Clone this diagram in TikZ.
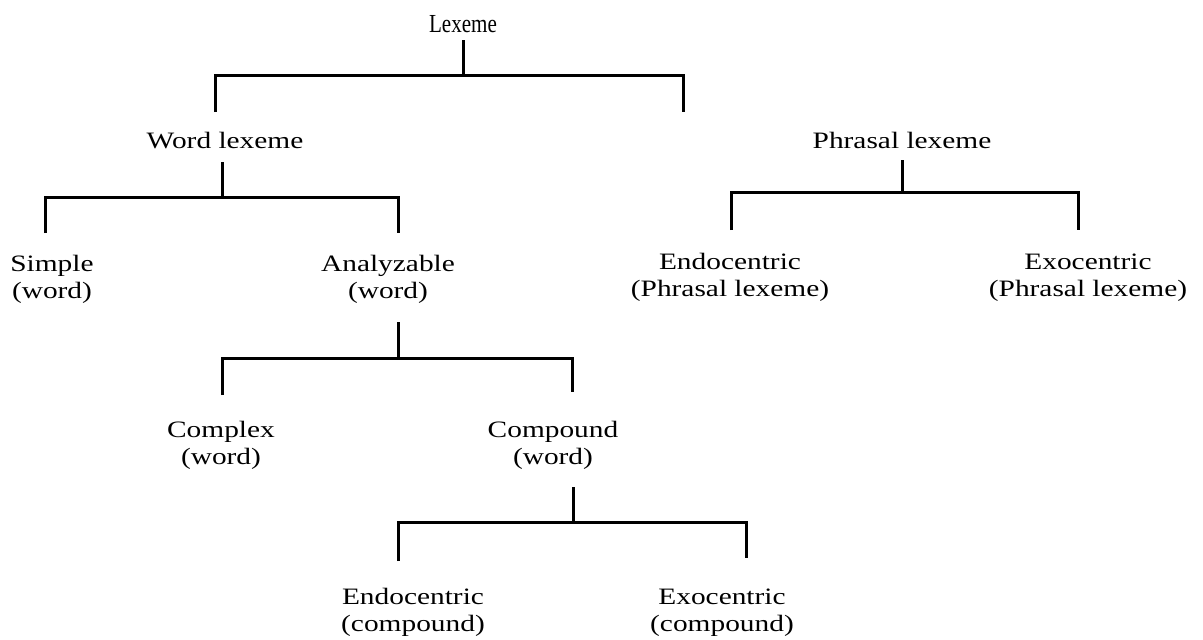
\documentclass[tikz,border=0pt]{standalone}
\usepackage{fontspec}
\setmainfont{Liberation Serif}
\newfontfamily\widefont[FakeStretch=1.25]{Liberation Serif}
\newfontfamily\narrowfont[FakeStretch=0.81]{Liberation Serif}
\begin{document}
\begin{tikzpicture}[x=1pt,y=-1pt,
  lbl/.style={inner sep=0pt,outer sep=0pt,align=center,anchor=base,
    font=\widefont\fontsize{23.5}{26.5}\selectfont},
  toplbl/.style={inner sep=0pt,outer sep=0pt,anchor=base,
    font=\narrowfont\fontsize{26}{28}\selectfont},
  br/.style={line width=3pt,line join=miter,line cap=butt}]
\useasboundingbox (0,0) rectangle (1203,640);
% labels (multi-line labels sit on the baseline of their last line)
\node[toplbl] (lex) at (463,32) {Lexeme};
\node[lbl] (wl) at (225,148) {Word lexeme};
\node[lbl] (pl) at (902,148) {Phrasal lexeme};
\node[lbl] (simp) at (52,298) {Simple\\(word)};
\node[lbl] (ana) at (388,298) {Analyzable\\(word)};
\node[lbl] (endp) at (730,296) {Endocentric\\(Phrasal lexeme)};
\node[lbl] (exop) at (1088,296) {Exocentric\\(Phrasal lexeme)};
\node[lbl] (cplx) at (221,464) {Complex\\(word)};
\node[lbl] (cmp) at (553,464) {Compound\\(word)};
\node[lbl] (endc) at (413,631) {Endocentric\\(compound)};
\node[lbl] (exoc) at (722,631) {Exocentric\\(compound)};
% leg ends of each bracket
\coordinate (lexL) at (215,112);  \coordinate (lexR) at (683,112);
\coordinate (wlL) at (45,233);    \coordinate (wlR) at (398,233);
\coordinate (plL) at (731,230);   \coordinate (plR) at (1078,230);
\coordinate (anaL) at (222,395);  \coordinate (anaR) at (572,392);
\coordinate (cmpL) at (398,561);  \coordinate (cmpR) at (746,558);
% stems and brackets
\draw[br] (463,40) -- (463,75);
\draw[br] (lexL) -- (215,75) -- (683,75) -- (lexR);
\draw[br] (222,162) -- (222,197);
\draw[br] (wlL) -- (45,197) -- (398,197) -- (wlR);
\draw[br] (902,160) -- (902,192);
\draw[br] (plL) -- (731,192) -- (1078,192) -- (plR);
\draw[br] (398,322) -- (398,358);
\draw[br] (anaL) -- (222,358) -- (572,358) -- (anaR);
\draw[br] (573,487) -- (573,522);
\draw[br] (cmpL) -- (398,522) -- (746,522) -- (cmpR);
\end{tikzpicture}
\end{document}
